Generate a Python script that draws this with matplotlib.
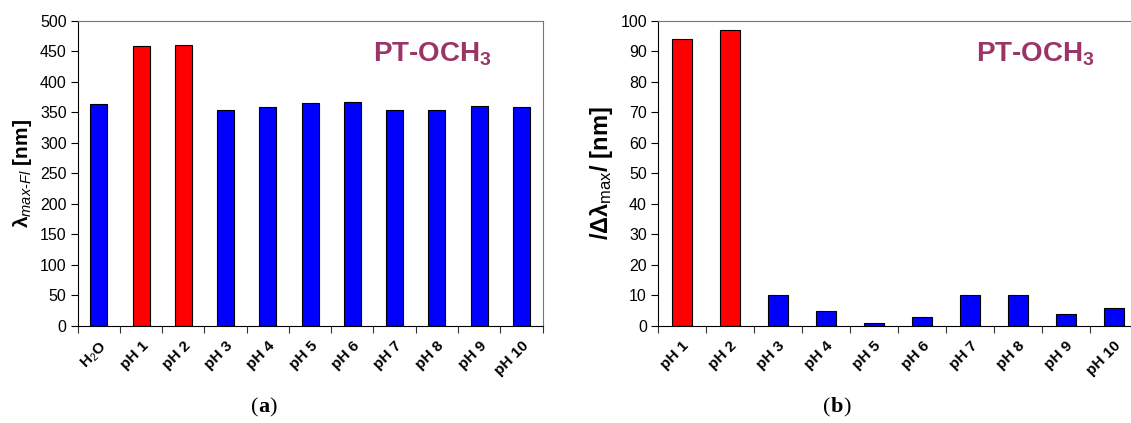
import matplotlib
matplotlib.use("Agg")
import matplotlib.pyplot as plt
import numpy as np
from matplotlib.offsetbox import TextArea, HPacker, AnnotationBbox

plt.rcParams['font.family'] = ['Liberation Sans', 'DejaVu Sans']
plt.rcParams['mathtext.fontset'] = 'custom'
plt.rcParams['mathtext.rm'] = 'Liberation Sans'
plt.rcParams['mathtext.it'] = 'Liberation Sans:italic'
plt.rcParams['mathtext.bf'] = 'Liberation Sans:bold'

# emission maxima per medium
labels_a = ['H$_2$O', 'pH 1', 'pH 2', 'pH 3', 'pH 4', 'pH 5', 'pH 6', 'pH 7', 'pH 8', 'pH 9', 'pH 10']
lam_max = [364, 458, 461, 354, 359, 365, 367, 354, 354, 360, 358]

# absolute shift versus water
labels_b = ['pH 1', 'pH 2', 'pH 3', 'pH 4', 'pH 5', 'pH 6', 'pH 7', 'pH 8', 'pH 9', 'pH 10']
dlam = [94, 97, 10, 5, 1, 3, 10, 10, 4, 6]

acid = ['pH 1', 'pH 2']
red, blue = '#ff0000', '#0000ff'
title_col = '#9b3567'

W, H = 1131, 423
fig = plt.figure(figsize=(W / 100, H / 100), dpi=100)

def px_axes(x0, x1, y0, y1):
    return fig.add_axes([x0 / W, 1 - y1 / H, (x1 - x0) / W, (y1 - y0) / H])

def style(ax, labels, ymax, step):
    n = len(labels)
    ax.set_ylim(0, ymax)
    ax.set_yticks(np.arange(0, ymax + 1, step))
    ax.set_xticks(np.arange(n + 1) - 0.5)
    ax.set_xticklabels([])
    ax.set_xticks(np.arange(n), minor=True)
    ax.set_xticklabels(labels, minor=True, rotation=45, ha='right',
                       rotation_mode='anchor', fontsize=11, fontweight='bold')
    ax.tick_params(axis='x', which='minor', length=0, pad=9)
    ax.tick_params(axis='x', which='major', length=5, direction='out', color='#333333')
    ax.tick_params(axis='y', length=5, direction='out', labelsize=11.5, pad=3)
    for s in ['left', 'bottom']:
        ax.spines[s].set_color('black')
    for s in ['top', 'right']:
        ax.spines[s].set_color('#777777')

def panel_tag(letter, x, y):
    kw = dict(fontsize=16, family='Liberation Serif')
    parts = [TextArea('(', textprops=kw),
             TextArea(letter, textprops=dict(fontweight='bold', **kw)),
             TextArea(')', textprops=kw)]
    box = HPacker(children=parts, pad=0, sep=0, align='baseline')
    fig.add_artist(AnnotationBbox(box, (x / W, 1 - y / H), xycoords='figure fraction',
                                  frameon=False, pad=0))

# (a)
ax1 = px_axes(77.7, 542.5, 20.7, 326)
cols = [red if l in acid else blue for l in labels_a]
ax1.bar(np.arange(len(labels_a)), lam_max, width=0.4, color=cols, edgecolor='black', linewidth=0.8)
ax1.set_xlim(-0.5, len(labels_a) - 0.5)
style(ax1, labels_a, 500, 50)
ax1.set_ylabel(r'$\mathbf{\lambda}_{\mathit{max\text{-}Fl}}$ [nm]', fontsize=15, fontweight='bold', labelpad=4)
ax1.text((433 - 77.7) / 465, (326 - 54) / 305.3, r'PT-OCH$_\mathbf{3}$', transform=ax1.transAxes,
         ha='center', va='center', color=title_col, fontsize=20, fontweight='bold')

# (b) axes runs past the right edge of the figure, 48 px per category
x0b, x1b = 658, 1160
ax2 = px_axes(x0b, x1b, 20.7, 326)
cols = [red if l in acid else blue for l in labels_b]
ax2.bar(np.arange(len(labels_b)), dlam, width=0.4, color=cols, edgecolor='black', linewidth=0.8)
ax2.set_xlim(-0.5, -0.5 + (x1b - x0b) / 48)
style(ax2, labels_b, 100, 10)
ax2.set_ylabel(r'$\mathbf{/\Delta\lambda}_{\mathrm{max}}\mathbf{/}$ [nm]', fontsize=17, fontweight='bold', labelpad=4)
ax2.text((1035 - x0b) / (x1b - x0b), (326 - 54) / 305.3, r'PT-OCH$_\mathbf{3}$', transform=ax2.transAxes,
         ha='center', va='center', color=title_col, fontsize=20, fontweight='bold')

panel_tag('a', 264, 407)
panel_tag('b', 837, 407)

fig.savefig('out.png', dpi=100)
